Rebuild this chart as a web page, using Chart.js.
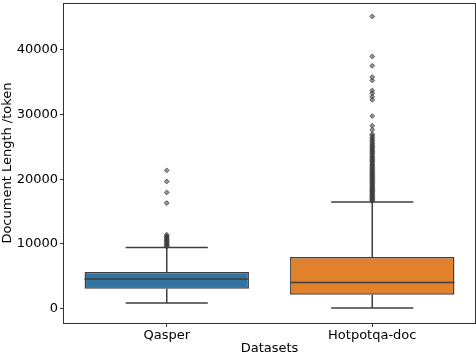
<!DOCTYPE html>
<html>
<head>
<meta charset="utf-8">
<script src="https://cdn.jsdelivr.net/npm/chart.js@4.4.0/dist/chart.umd.min.js"></script>
<style>
  html, body { margin: 0; padding: 0; background: #fff; }
  #wrap { width: 476px; height: 356px; }
</style>
</head>
<body>
<div id="wrap"><canvas id="chart"></canvas></div>
<script>
// box statistics
const categories = ['Qasper', 'Hotpotqa-doc'];
const q1 = [3050, 2120];
const median = [4550, 4020];
const q3 = [5630, 7950];
const whiskerLow = [830, 60];
const whiskerHigh = [9430, 16460];
const boxColors = ['#3274a1', '#e1812c'];

const outliersQasper = [9550, 9700, 9850, 10000, 10150, 10300, 10450, 10600, 10750,
    10900, 11050, 11200, 11400, 16300, 17940, 19640, 21350];
const outliersHotpot = [16600, 16750, 16900, 17000, 17150, 17300, 17450, 17550, 17700,
    17850, 18000, 18100, 18250, 18400, 18550, 18650, 18800, 18950, 19100, 19250, 19350,
    19500, 19650, 19800, 19950, 20100, 20250, 20400, 20550, 20700, 20850, 21000, 21150,
    21300, 21500, 21650, 21800, 22000, 22150, 22300, 22500, 22700, 22850, 23000, 23200,
    23400, 23550, 23750, 23950, 24150, 24300, 24500, 24700, 24900, 25100, 25300, 25500,
    25750, 26000, 26200, 26450, 26700, 26950, 27640, 28260, 29760, 32280, 32750, 33290,
    33720, 35270, 35790, 37540, 38980, 45170];

const yTicks = [0, 10000, 20000, 30000, 40000];

const lineColor = '#3f3f3f';
const font = { family: 'DejaVu Sans', size: 13 };

// median, whiskers and caps as broken line segments
const halfBox = 0.4, halfCap = 0.2;
const segments = [];
categories.forEach(function (c, i) {
    segments.push({ x: i - halfBox, y: median[i] }, { x: i + halfBox, y: median[i] }, { x: i, y: null });
    segments.push({ x: i, y: q3[i] }, { x: i, y: whiskerHigh[i] }, { x: i, y: null });
    segments.push({ x: i, y: q1[i] }, { x: i, y: whiskerLow[i] }, { x: i, y: null });
    segments.push({ x: i - halfCap, y: whiskerHigh[i] }, { x: i + halfCap, y: whiskerHigh[i] }, { x: i, y: null });
    segments.push({ x: i - halfCap, y: whiskerLow[i] }, { x: i + halfCap, y: whiskerLow[i] }, { x: i, y: null });
});

const fliers = [outliersQasper, outliersHotpot].flatMap(function (arr, i) {
    return arr.map(function (v) { return { x: i, y: v }; });
});

// plot frame (all four spines)
const framePlugin = {
    id: 'frame',
    afterDraw(chart) {
        const a = chart.chartArea, ctx = chart.ctx;
        ctx.save();
        ctx.strokeStyle = '#333';
        ctx.lineWidth = 1;
        ctx.strokeRect(Math.round(a.left) - 0.5, Math.round(a.top) + 0.5,
            Math.round(a.right - a.left) + 1, Math.round(a.bottom - a.top));
        ctx.restore();
    }
};

new Chart(document.getElementById('chart'), {
    type: 'bar',
    data: {
        datasets: [
            {
                type: 'scatter',
                data: fliers,
                pointStyle: 'rectRot',
                pointRadius: 2.4,
                backgroundColor: 'rgba(63,63,63,0.55)',
                borderColor: lineColor,
                borderWidth: 0.8,
                order: 0
            },
            {
                type: 'line',
                data: segments,
                borderColor: lineColor,
                borderWidth: 1.5,
                pointRadius: 0,
                spanGaps: false,
                order: 1
            },
            {
                type: 'bar',
                data: categories.map(function (c, i) { return { x: i, y: [q1[i], q3[i]] }; }),
                backgroundColor: boxColors,
                borderColor: lineColor,
                borderWidth: 1.5,
                borderSkipped: false,
                categoryPercentage: 0.8,
                barPercentage: 1.0,
                order: 2
            }
        ]
    },
    options: {
        responsive: true,
        maintainAspectRatio: false,
        animation: false,
        layout: { autoPadding: false, padding: { top: 3, right: 1, left: 0, bottom: 0 } },
        plugins: {
            legend: { display: false },
            tooltip: { enabled: false }
        },
        scales: {
            x: {
                type: 'linear',
                min: -0.5,
                max: 1.5,
                offset: false,
                afterBuildTicks: function (axis) {
                    axis.ticks = categories.map(function (c, i) { return { value: i }; });
                },
                afterFit: function (axis) {
                    axis.height = 33;
                    axis.paddingLeft = 0;
                    axis.paddingRight = 0;
                },
                ticks: {
                    color: '#000',
                    font: font,
                    padding: 1,
                    maxRotation: 0,
                    callback: function (v) { return categories[v]; }
                },
                grid: { drawOnChartArea: false, tickLength: 4, color: '#333', offset: false },
                border: { display: false },
                title: { display: true, text: 'Datasets', color: '#000', font: font, padding: 0 }
            },
            y: {
                min: -2250,
                max: 47250,
                afterBuildTicks: function (axis) {
                    axis.ticks = yTicks.map(function (v) { return { value: v }; });
                },
                afterFit: function (axis) {
                    axis.width = 64;
                    axis.paddingTop = 0;
                    axis.paddingBottom = 0;
                },
                ticks: {
                    color: '#000',
                    font: font,
                    padding: 2,
                    callback: function (v) { return String(v); }
                },
                grid: { drawOnChartArea: false, tickLength: 4, color: '#333' },
                border: { display: false },
                title: { display: true, text: 'Document Length /token', color: '#000', font: font, padding: 0 }
            }
        }
    },
    plugins: [framePlugin]
});
</script>
</body>
</html>
